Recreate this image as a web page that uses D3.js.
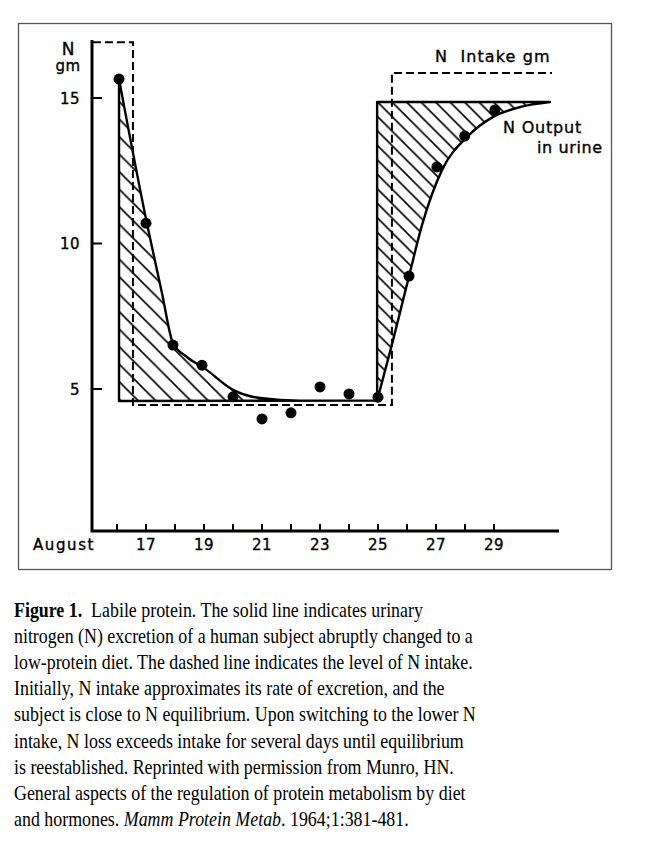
<!DOCTYPE html>
<html>
<head>
<meta charset="utf-8">
<script src="https://cdn.jsdelivr.net/npm/d3@7"></script>
<style>
  body { margin: 0; background: #fff; }
  svg { display: block; }
</style>
</head>
<body>
<script>
// measured output (dots), day of August vs N gm
const dotDays   = [16.07, 17, 17.93, 18.93, 20, 21, 22, 23, 24, 25, 26.07, 27.03, 27.99, 29.03];
const dotValues = [15.65, 10.7, 6.51, 5.82, 4.73, 3.97, 4.18, 5.07, 4.83, 4.72, 8.88, 12.63, 13.69, 14.59];

// smoothed output curve, falling then rising part
const fallDays   = [16.07, 17.03, 17.55, 17.93, 18.41, 19.03, 20.0, 20.93, 22.31, 24.97];
const fallValues = [15.65, 10.7, 8.3, 6.58, 6.1, 5.7, 4.97, 4.69, 4.6, 4.6];
const riseDays   = [24.97, 25.52, 26.07, 26.52, 27.21, 28.07, 28.97, 29.9, 30.93];
const riseValues = [4.6, 6.68, 8.88, 10.64, 12.53, 13.66, 14.35, 14.69, 14.86];

// N intake, dashed step line
const intakeDays   = [15.17, 16.55, 16.55, 25.48, 25.48, 31.0];
const intakeValues = [16.92, 16.92, 4.45, 4.45, 15.86, 15.86];

const xTickDays = d3.range(16, 30);
const xLabelDays = [17, 19, 21, 23, 25, 27, 29];
const yTickValues = [5, 10, 15];

const caption = [
  [["Figure 1.", "bold"], ["  Labile protein. The solid line indicates urinary", ""]],
  [["nitrogen (N) excretion of a human subject abruptly changed to a", ""]],
  [["low-protein diet. The dashed line indicates the level of N intake.", ""]],
  [["Initially, N intake approximates its rate of excretion, and the", ""]],
  [["subject is close to N equilibrium. Upon switching to the lower N", ""]],
  [["intake, N loss exceeds intake for several days until equilibrium", ""]],
  [["is reestablished. Reprinted with permission from Munro, HN.", ""]],
  [["General aspects of the regulation of protein metabolism by diet", ""]],
  [["and hormones. ", ""], ["Mamm Protein Metab", "italic"], [". 1964;1:381-481.", ""]]
];
const captionEnds = [423, 473, 473, 445, 476, 464, 454, 466, 409];

const width = 657, height = 859;
const svg = d3.select("body").append("svg")
    .attr("width", width)
    .attr("height", height);

const x = d3.scaleLinear([16, 29], [117, 494]);
const y = d3.scaleLinear([5, 15], [389, 98]);
const axisX0 = 92, axisY0 = y(0.12);

// outer frame
svg.append("rect")
    .attr("x", 18.5).attr("y", 23.5)
    .attr("width", 593).attr("height", 546)
    .attr("fill", "none")
    .attr("stroke", "#555")
    .attr("stroke-width", 1.3);

const defs = svg.append("defs");
function hatch(id, s) {
  defs.append("pattern")
      .attr("id", id)
      .attr("patternUnits", "userSpaceOnUse")
      .attr("width", s).attr("height", s)
    .append("path")
      .attr("d", `M0,0L${s},${s}M${-2},${s - 2}L2,${s + 2}M${s - 2},-2L${s + 2},2`)
      .attr("stroke", "#000")
      .attr("stroke-width", 1.6);
}
hatch("hatchL", 17.5);
hatch("hatchR", 14.5);

const line = d3.line().x(d => x(d[0])).y(d => y(d[1])).curve(d3.curveMonotoneX);
const fall = d3.zip(fallDays, fallValues);
const rise = d3.zip(riseDays, riseValues);
const baseVal = 4.59;

const leftPath = line(fall) + `L${x(fallDays[0])},${y(baseVal)}Z`;
const rightPath = line(rise) + `L${x(riseDays[0])},${y(riseValues[riseValues.length - 1])}Z`;

svg.append("path").attr("d", leftPath).attr("fill", "url(#hatchL)");
svg.append("path").attr("d", rightPath).attr("fill", "url(#hatchR)");
svg.append("path").attr("d", leftPath)
    .attr("fill", "none").attr("stroke", "#000").attr("stroke-width", 2.4).attr("stroke-linejoin", "round");
svg.append("path").attr("d", rightPath)
    .attr("fill", "none").attr("stroke", "#000").attr("stroke-width", 2.4).attr("stroke-linejoin", "round");

// intake dashed
svg.append("path")
    .attr("d", d3.line().x(d => x(d[0])).y(d => y(d[1]))(d3.zip(intakeDays, intakeValues)))
    .attr("fill", "none")
    .attr("stroke", "#000")
    .attr("stroke-width", 2)
    .attr("stroke-dasharray", "8,4");

// dots
svg.append("g")
  .selectAll("circle")
  .data(d3.zip(dotDays, dotValues))
  .join("circle")
    .attr("cx", d => x(d[0]))
    .attr("cy", d => y(d[1]))
    .attr("r", 5.5)
    .attr("fill", "#000");

// axes
svg.append("path")
    .attr("d", `M${axisX0},40V${axisY0}H559`)
    .attr("fill", "none")
    .attr("stroke", "#000")
    .attr("stroke-width", 3);

svg.append("g")
  .selectAll("line")
  .data(xTickDays)
  .join("line")
    .attr("x1", d => x(d)).attr("x2", d => x(d))
    .attr("y1", axisY0).attr("y2", axisY0 - 7)
    .attr("stroke", "#000").attr("stroke-width", 2);

svg.append("g")
  .selectAll("line")
  .data(yTickValues)
  .join("line")
    .attr("x1", axisX0).attr("x2", axisX0 + 10)
    .attr("y1", d => y(d)).attr("y2", d => y(d))
    .attr("stroke", "#000").attr("stroke-width", 2);

const font = "DejaVu Sans, sans-serif";
const labels = svg.append("g")
    .attr("font-family", font)
    .attr("font-size", 15)
    .attr("fill", "#000")
    .attr("stroke", "#000")
    .attr("stroke-width", 0.35);

labels.selectAll(".xl")
  .data(xLabelDays)
  .join("text")
    .attr("class", "xl")
    .attr("x", d => x(d))
    .attr("y", 550)
    .attr("text-anchor", "middle")
    .attr("letter-spacing", 0.5)
    .text(d => d);

labels.selectAll(".yl")
  .data(yTickValues)
  .join("text")
    .attr("class", "yl")
    .attr("x", 80)
    .attr("y", d => y(d) + 5.5)
    .attr("text-anchor", "end")
    .attr("letter-spacing", 0.5)
    .text(d => d);

labels.append("text").attr("x", 33).attr("y", 550).attr("letter-spacing", 1.6).text("August");
labels.append("text").attr("x", 68).attr("y", 55).attr("text-anchor", "middle").attr("font-size", 17).text("N");
labels.append("text").attr("x", 68).attr("y", 71).attr("text-anchor", "middle").attr("letter-spacing", 0.5).text("gm");
labels.append("text").attr("x", 435).attr("y", 62).attr("font-size", 16).attr("letter-spacing", 1.1).attr("xml:space", "preserve").text("N  Intake gm");
labels.append("text").attr("x", 503).attr("y", 133).attr("font-size", 16).attr("letter-spacing", 0.8).text("N Output");
labels.append("text").attr("x", 537).attr("y", 153).attr("font-size", 16).attr("letter-spacing", 0.6).text("in urine");

// caption: each line squeezed horizontally to its width in the figure
const cap = svg.append("g")
    .attr("font-family", "Liberation Serif, Times New Roman, serif")
    .attr("font-size", 21.5)
    .attr("fill", "#000");

caption.forEach((segs, i) => {
  const t = cap.append("text")
      .attr("x", 0)
      .attr("y", 0)
      .attr("xml:space", "preserve");
  segs.forEach(([s, st]) => {
    const sp = t.append("tspan").text(s);
    if (st === "bold") sp.attr("font-weight", "bold");
    if (st === "italic") sp.attr("font-style", "italic");
  });
  const w = t.node().getComputedTextLength();
  const sx = (captionEnds[i] - 14) / w;
  t.attr("transform", `translate(14,${617 + i * 26.1}) scale(${sx},1)`);
});
</script>
</body>
</html>
